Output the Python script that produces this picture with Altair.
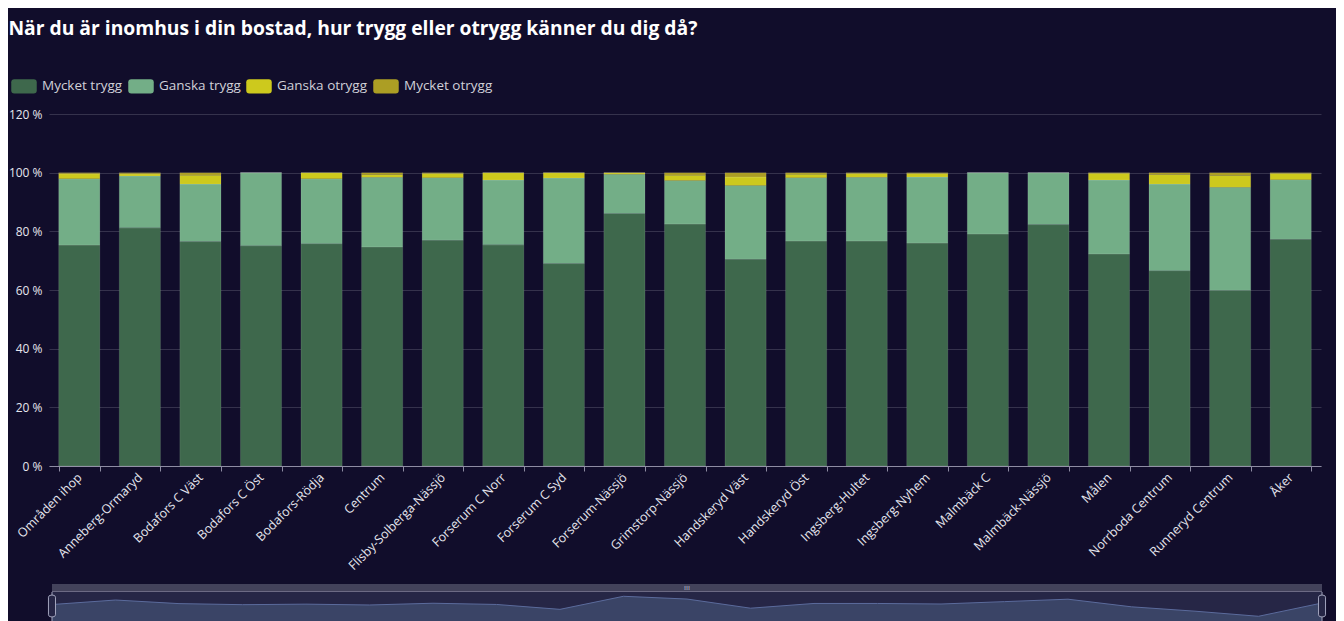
import altair as alt
import pandas as pd

categories = ["Områden ihop", "Anneberg-Ormaryd", "Bodafors C Väst", "Bodafors C Öst",
              "Bodafors-Rödja", "Centrum", "Flisby-Solberga-Nässjö", "Forserum C Norr",
              "Forserum C Syd", "Forserum-Nässjö", "Grimstorp-Nässjö", "Handskeryd Väst",
              "Handskeryd Öst", "Ingsberg-Hultet", "Ingsberg-Nyhem", "Malmbäck C",
              "Malmbäck-Nässjö", "Målen", "Norrboda Centrum", "Runneryd Centrum", "Åker"]
mycket_trygg = [75.3, 81.2, 76.5, 75.1, 75.8, 74.7, 77.0, 75.4, 69.0, 86.1, 82.5,
                70.5, 76.7, 76.7, 76.0, 79.1, 82.3, 72.3, 66.6, 59.9, 77.3]
ganska_trygg = [22.6, 17.7, 19.6, 24.9, 22.1, 23.7, 21.3, 22.1, 29.2, 13.4, 14.8,
                25.1, 21.6, 21.7, 22.5, 20.9, 17.7, 25.2, 29.5, 35.1, 20.3]
ganska_otrygg = [1.7, 0.7, 3.0, 0.0, 2.1, 0.9, 1.4, 2.5, 1.8, 0.5, 1.8,
                 2.9, 1.2, 1.3, 1.2, 0.0, 0.0, 2.3, 3.3, 4.0, 2.1]
mycket_otrygg = [0.4, 0.4, 0.9, 0.0, 0.0, 0.7, 0.3, 0.0, 0.0, 0.0, 0.9,
                 1.5, 0.5, 0.3, 0.3, 0.0, 0.0, 0.2, 0.6, 1.0, 0.3]
series = ["Mycket trygg", "Ganska trygg", "Ganska otrygg", "Mycket otrygg"]
colors = ["#3e684c", "#73ae87", "#cdc91d", "#ac9e24"]
y_ticks = [0, 20, 40, 60, 80, 100, 120]
title_text = "När du är inomhus i din bostad, hur trygg eller otrygg känner du dig då?"

BG = "#110d2b"
FONT = "Open Sans"
W = 1272

rows = []
for s_i, (name, vals) in enumerate(zip(series, [mycket_trygg, ganska_trygg, ganska_otrygg, mycket_otrygg])):
    for c, v in zip(categories, vals):
        rows.append({"category": c, "series": name, "value": v, "order": s_i})
df = pd.DataFrame(rows)

legend_shape = ("M-0.76,-0.56 L0.76,-0.56 Q1,-0.56 1,-0.32 L1,0.32 Q1,0.56 0.76,0.56 "
                "L-0.76,0.56 Q-1,0.56 -1,0.32 L-1,-0.32 Q-1,-0.56 -0.76,-0.56 Z")

main = alt.Chart(df).mark_bar(stroke="#ffffff", strokeOpacity=0.1, strokeWidth=1).encode(
    x=alt.X("category:N", sort=categories,
            scale=alt.Scale(paddingInner=0.32, paddingOuter=0.16),
            axis=alt.Axis(title=None, labelAngle=-45, labelAlign="right", labelBaseline="middle",
                          labelColor="#e6e6ee", labelFontSize=12.5, labelFont=FONT,
                          domainColor="#8e8ca3", tickColor="#8e8ca3", tickSize=5,
                          tickBand="extent", labelPadding=4, grid=False)),
    y=alt.Y("value:Q", stack="zero", scale=alt.Scale(domain=[0, 120]),
            axis=alt.Axis(title=None, values=y_ticks, labelExpr="datum.value + ' %'",
                          domain=False, ticks=False, gridColor="#35324c", gridWidth=1,
                          labelColor="#e6e6ee", labelFontSize=12, labelFont=FONT, labelPadding=7)),
    color=alt.Color("series:N", sort=series, scale=alt.Scale(domain=series, range=colors),
                    legend=alt.Legend(title=None, orient="none", legendX=-38, legendY=-41,
                                      direction="horizontal", symbolType=legend_shape,
                                      symbolSize=650, symbolStrokeWidth=0, labelFontSize=13.5,
                                      labelFont=FONT, labelColor="#d0d0d8", labelOffset=5,
                                      columnPadding=5)),
    order=alt.Order("order:Q", sort="ascending"),
).properties(width=W, height=352)

# data-zoom style overview below the chart
ov = pd.DataFrame({"idx": list(range(len(categories))), "v": mycket_trygg})
ends = pd.DataFrame({"x0": [0], "x1": [len(categories) - 1]})
handles = pd.DataFrame({"idx": [0, len(categories) - 1]})
grip = pd.DataFrame({"idx": [10], "t": ["⁞⁞⁞"]})
xsc = alt.Scale(domain=[-0.047, 19.984], nice=False, zero=False)

bg = alt.Chart(ends).mark_rect(color="#262646").encode(
    x=alt.X("x0:Q", scale=xsc, axis=None), x2="x1:Q", y=alt.value(8), y2=alt.value(40))
strip = alt.Chart(ends).mark_rect(color="#43425b").encode(
    x=alt.X("x0:Q", scale=xsc, axis=None), x2="x1:Q", y=alt.value(0), y2=alt.value(7))
sep = alt.Chart(ends).mark_rect(color="#6c6a84").encode(
    x=alt.X("x0:Q", scale=xsc, axis=None), x2="x1:Q", y=alt.value(7), y2=alt.value(8))
grip_mark = alt.Chart(grip).mark_text(color="#d8d8e0", fontSize=7, font=FONT).encode(
    x=alt.X("idx:Q", scale=xsc, axis=None), y=alt.value(3.5), text="t:N")
area = alt.Chart(ov).mark_area(color="#3a4466", opacity=1,
                               line={"color": "#5b6b9c", "strokeWidth": 1}).encode(
    x=alt.X("idx:Q", scale=xsc, axis=None),
    y=alt.Y("v:Q", scale=alt.Scale(domain=[49.8, 102.2], zero=False, nice=False), axis=None),
    y2=alt.value(40))
hline = alt.Chart(handles).mark_rule(color="#a2a4bd", strokeWidth=1).encode(
    x=alt.X("idx:Q", scale=xsc, axis=None), y=alt.value(8), y2=alt.value(40))
handle_shape = ("M-0.32,-0.8 Q-0.32,-1 0,-1 Q0.32,-1 0.32,-0.8 L0.32,0.8 "
                "Q0.32,1 0,1 Q-0.32,1 -0.32,0.8 Z")
hrect = alt.Chart(handles).mark_point(shape=handle_shape, size=484, filled=True,
                                      fill="#262646", stroke="#a2a4bd", strokeWidth=1,
                                      opacity=1).encode(
    x=alt.X("idx:Q", scale=xsc, axis=None), y=alt.value(22))

slider = alt.layer(bg, strip, sep, grip_mark, area, hline, hrect).properties(width=W, height=40)

chart = alt.vconcat(main, slider, spacing=118, bounds="flush").properties(
    title=alt.Title(title_text, fontSize=19.3, fontWeight="bold", color="#ffffff", font=FONT,
                    anchor="start", offset=34),
    padding={"left": 0, "top": 11, "right": 8, "bottom": 0},
    background=BG,
).configure_view(stroke=None)

chart.save("out.html", embed_options={"renderer": "svg", "actions": False})
